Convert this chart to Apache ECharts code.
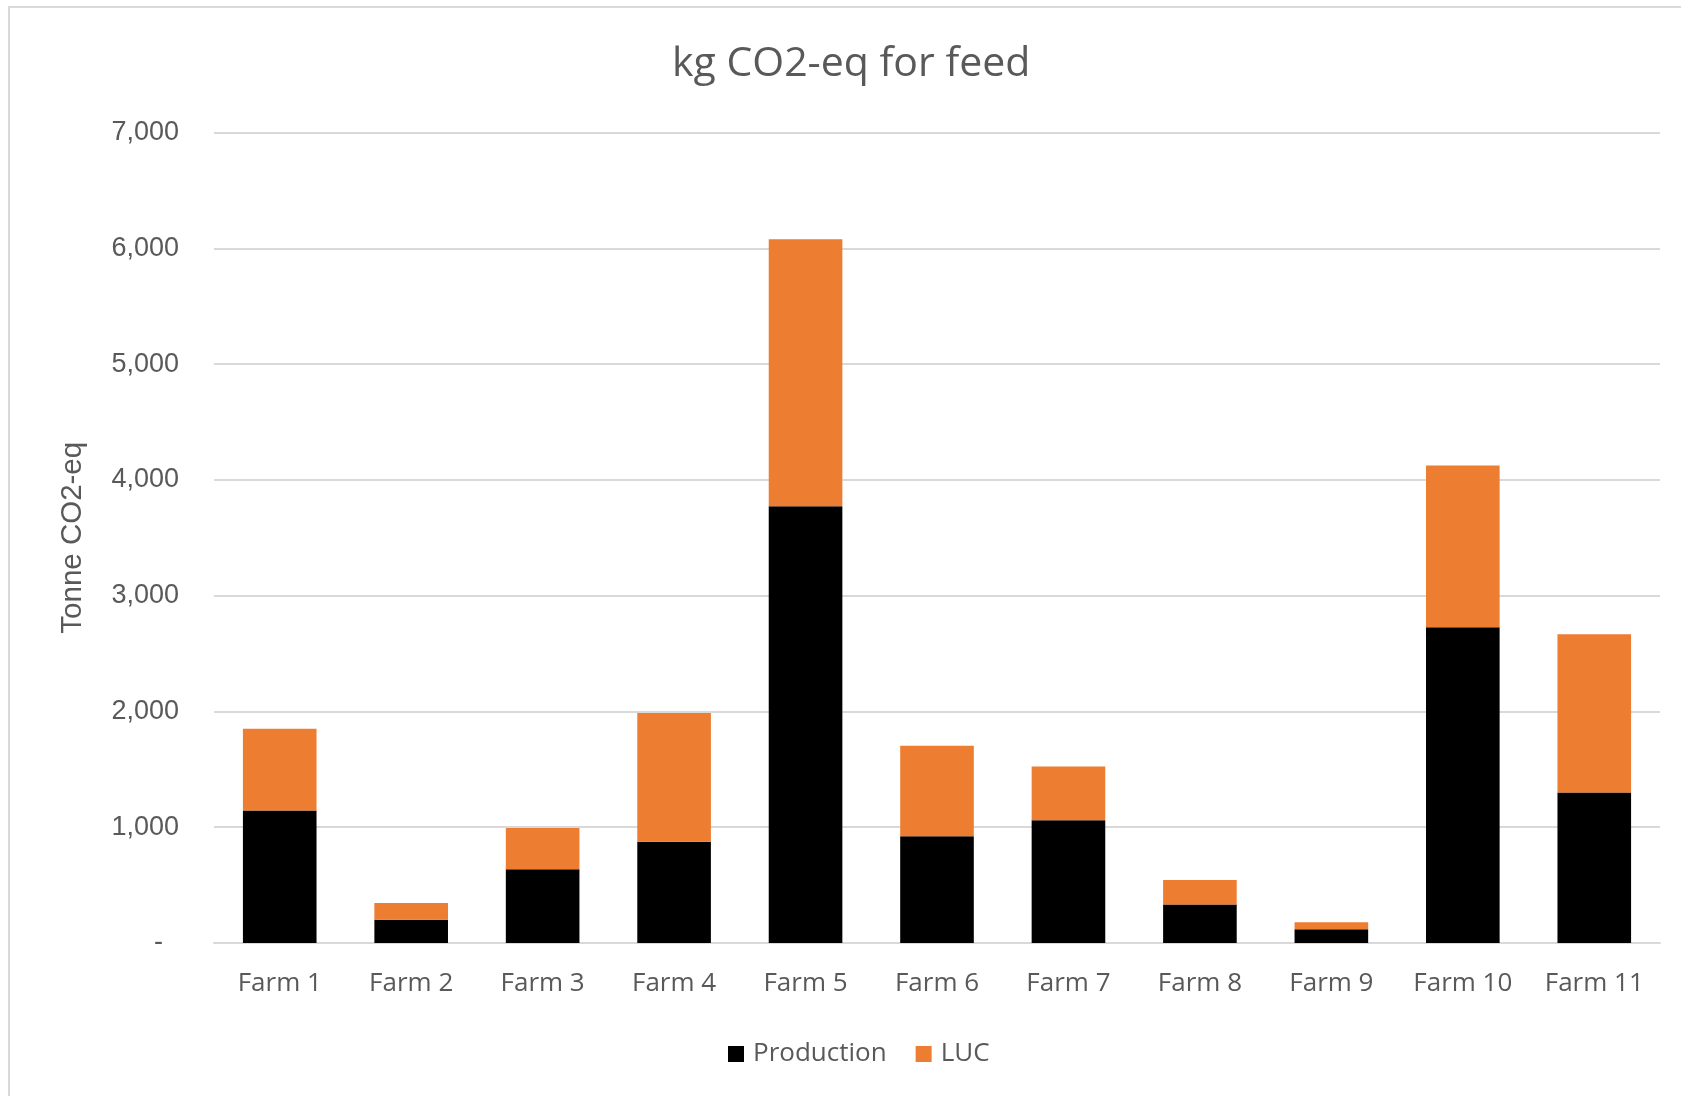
<!DOCTYPE html>
<html>
<head>
<meta charset="utf-8">
<script src="https://cdn.jsdelivr.net/npm/echarts@6/dist/echarts.min.js"></script>
<style>
html,body{margin:0;padding:0;background:#fff;}
#chart{width:1681px;height:1096px;}
</style>
</head>
<body>
<div id="chart"></div>
<script>
const categories = ['Farm 1','Farm 2','Farm 3','Farm 4','Farm 5','Farm 6','Farm 7','Farm 8','Farm 9','Farm 10','Farm 11'];
const production = [1145, 201, 636, 875, 3773, 923, 1060, 333, 118, 2727, 1300];
const luc = [705, 144, 357, 1111, 2304, 781, 464, 212, 61, 1397, 1367];
const yTicks = [0, 1000, 2000, 3000, 4000, 5000, 6000, 7000];

const FONT = '"Open Sans", "Noto Sans", sans-serif';
const YFONT = '"Liberation Sans", Arial, sans-serif';
const chart = echarts.init(document.getElementById('chart'));
chart.setOption({
  animation: false,
  backgroundColor: '#ffffff',
  graphic: [{
    type: 'rect',
    shape: {x: 9, y: 7, width: 1700, height: 1120},
    style: {fill: 'none', stroke: '#d9d9d9', lineWidth: 2},
    silent: true
  }],
  title: {
    text: 'kg CO2-eq for feed',
    left: 667,
    top: 39,
    textStyle: {fontFamily: FONT, fontSize: 41, fontWeight: 'normal', color: '#595959'}
  },
  legend: {
    left: 723,
    top: 1036,
    itemWidth: 16,
    itemHeight: 16,
    itemGap: 29,
    icon: 'rect',
    textStyle: {fontFamily: FONT, fontSize: 26, color: '#595959', padding: [0, 0, 0, 4]},
    data: ['Production', 'LUC']
  },
  grid: {left: 214, right: 21, top: 132.5, bottom: 153, containLabel: false},
  xAxis: {
    type: 'category',
    data: categories,
    axisTick: {show: false},
    axisLine: {lineStyle: {color: '#d9d9d9', width: 2}},
    axisLabel: {fontFamily: FONT, fontSize: 26, color: '#595959', margin: 28}
  },
  yAxis: {
    type: 'value',
    min: yTicks[0],
    max: yTicks[yTicks.length - 1],
    interval: 1000,
    name: 'Tonne CO2-eq',
    nameLocation: 'middle',
    nameGap: 126,
    nameTextStyle: {fontFamily: YFONT, fontSize: 29.5, color: '#595959'},
    axisLine: {show: false},
    axisTick: {show: false},
    splitLine: {lineStyle: {color: '#d9d9d9', width: 2}},
    axisLabel: {
      fontFamily: YFONT, fontSize: 27, color: '#595959', margin: 35,
      formatter: function (v) {
        return v === 0 ? '{d|-}' : v.toLocaleString('en-US');
      },
      rich: {d: {fontFamily: YFONT, fontSize: 27, color: '#595959', padding: [0, 16, 0, 0]}}
    }
  },
  series: [
    {
      name: 'Production', type: 'bar', stack: 'total', data: production,
      barCategoryGap: '44%',
      itemStyle: {color: '#000000'}
    },
    {
      name: 'LUC', type: 'bar', stack: 'total', data: luc,
      barCategoryGap: '44%',
      itemStyle: {color: '#ed7d31'}
    }
  ]
});
</script>
</body>
</html>
